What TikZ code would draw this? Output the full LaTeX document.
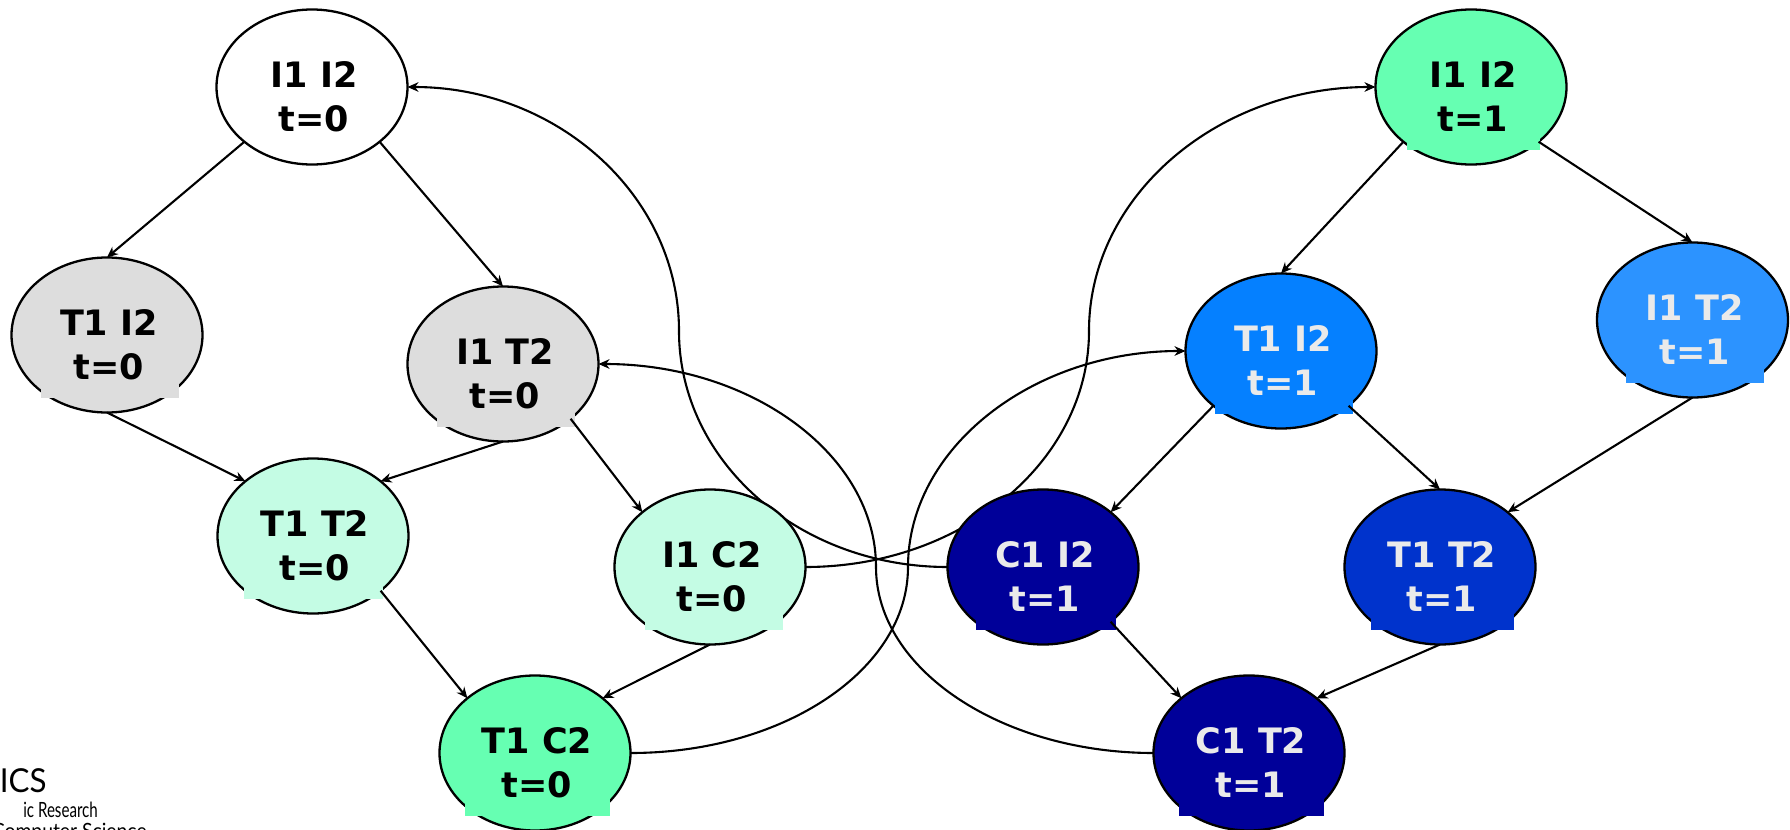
\documentclass[tikz,border=0pt]{standalone}
\usepackage{fontspec}
\setmainfont{DejaVu Sans}
\newfontfamily\logofont{Lato}
\usetikzlibrary{shapes.geometric,arrows.meta}
\pgfdeclarelayer{bg}
\pgfsetlayers{bg,main}
\definecolor{cgrey}{HTML}{DDDDDD}
\definecolor{cmint}{HTML}{C4FCE4}
\definecolor{cgreen}{HTML}{66FFB2}
\definecolor{cbluea}{HTML}{2C93FF}
\definecolor{cblueb}{HTML}{0580FF}
\definecolor{cbluec}{HTML}{0033CC}
\definecolor{cblued}{HTML}{000099}
\definecolor{ctxt}{HTML}{EAEAEA}
\tikzset{
  x=0.5pt,y=-0.5pt,
  state/.style={ellipse,draw=black,line width=1.15pt,minimum width=95.5pt,minimum height=77.5pt,inner sep=0pt,outer sep=0pt},
  txt/.style={align=center,font=\fontsize{17.5}{22}\selectfont\bfseries,inner sep=0pt},
  edge/.style={line width=1.05pt,-{Stealth[length=5.5pt,width=4.8pt]}},
  logo/.style={inner sep=0pt},
}
\newcommand{\statenode}[8]{% name, x, y, fill, text colour, label, patch left, patch right
  \node[state,fill=#4] (#1) at (#2,#3) {};
  \fill[#4] (#2-#7,#3+45) rectangle (#2+#8,#3+63);
  \node[txt,text=#5] (#1t) at (#2+2,#3+10) {#6};
}
\begin{document}
\begin{tikzpicture}
\useasboundingbox (0,0) rectangle (1790,830);
\node[state,fill=white] (a) at (312,87) {};
\node[txt,text=black] (at) at (314,97) {I1 I2\\t=0};
\statenode{b}{107}{335}{cgrey}{black}{T1 I2\\t=0}{66}{72}
\statenode{c}{503}{364}{cgrey}{black}{I1 T2\\t=0}{66}{72}
\statenode{d}{313}{536}{cmint}{black}{T1 T2\\t=0}{69}{70}
\statenode{e}{710}{567}{cmint}{black}{I1 C2\\t=0}{65}{73}
\statenode{f}{535}{753}{cgreen}{black}{T1 C2\\t=0}{70}{75}
\statenode{g}{1471}{87}{cgreen}{black}{I1 I2\\t=1}{64}{69}
\statenode{h}{1281}{351}{cblueb}{ctxt}{T1 I2\\t=1}{66}{72}
\statenode{i}{1692.5}{320}{cbluea}{ctxt}{I1 T2\\t=1}{66.5}{71.5}
\statenode{j}{1043}{567}{cblued}{ctxt}{C1 I2\\t=1}{67}{73}
\statenode{k}{1440}{567}{cbluec}{ctxt}{T1 T2\\t=1}{69}{74}
\statenode{l}{1249}{753}{cblued}{ctxt}{C1 T2\\t=1}{70}{75}
\coordinate (m1) at (679,331);
\coordinate (m2) at (876,567);
\coordinate (m3) at (908,567);
\coordinate (m4) at (1089,331);
\begin{pgfonlayer}{bg}
\draw[edge] (j.west) .. controls +(-149,0) and +(0,130) .. (m1) .. controls +(0,-135) and +(150,0) .. (a.east);
\draw[edge] (l.west) .. controls +(-151,0) and +(0,103) .. (m2) .. controls +(0,-112) and +(153,0) .. (c.east);
\draw[edge] (f.east) .. controls +(153,0) and +(0,103) .. (m3) .. controls +(0,-119) and +(-153,0) .. (h.west);
\draw[edge] (e.east) .. controls +(157,0) and +(0,130) .. (m4) .. controls +(0,-135) and +(-158,0) .. (g.west);
\end{pgfonlayer}
\draw[edge] (a.-141) -- (b.north);
\draw[edge] (a.-39) -- (c.north);
\draw[edge] (b.south) -- (d.141);
\draw[edge] (c.south) -- (d.39);
\draw[edge] (c.-39) -- (e.141);
\draw[edge] (d.-39) -- (f.141);
\draw[edge] (e.south) -- (f.39);
\draw[edge] (g.-141) -- (h.north);
\draw[edge] (g.-39) -- (i.north);
\draw[edge] (h.-141) -- (j.39);
\draw[edge] (h.-39) -- (k.north);
\draw[edge] (i.south) -- (k.39);
\draw[edge] (j.-39) -- (l.141);
\draw[edge] (k.south) -- (l.39);
\node[logo,xscale=0.95,anchor=base east,font=\logofont\fontsize{16.5}{16.5}\selectfont] (l1) at (47,792) {RICS};
\node[logo,xscale=0.72,anchor=base west,font=\logofont\fontsize{10.5}{10.5}\selectfont] (l2) at (23,817) {ic Research};
\node[logo,xscale=0.92,anchor=base east,font=\logofont\fontsize{10.5}{10.5}\selectfont] (l3) at (147,838) {Computer Science};
\end{tikzpicture}
\end{document}
